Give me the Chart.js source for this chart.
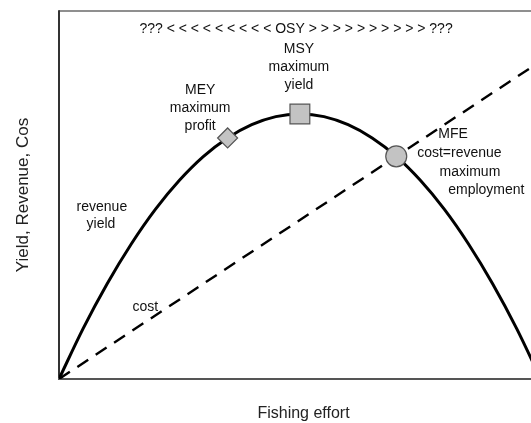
<!DOCTYPE html>
<html>
<head>
<meta charset="utf-8">
<script src="https://cdn.jsdelivr.net/npm/chart.js@4.4.1/dist/chart.umd.min.js"></script>
<style>
  html, body { margin: 0; padding: 0; background: #fff; overflow: hidden; width: 531px; height: 423px; }
  canvas { display: block; }
</style>
</head>
<body>
<!-- le cadre de l'original est coupé à droite : le canvas déborde un peu -->
<canvas id="fishChart" width="548" height="423"></canvas>
<script>
// ─── DONNÉES ─────────────────────────────────────────────────────────────
const effort = [0, 5, 10, 15, 20, 25, 30, 35, 40, 45, 50, 55, 60, 65, 70, 75, 80, 85, 90, 95, 100];
// courbe revenu / rendement
const yieldValues = [0, 13.7, 25.9, 36.7, 46.1, 54, 60.5, 65.5, 69.1, 71.3, 72, 71.3, 69.1, 65.5, 60.5, 54, 46.1, 36.7, 25.9, 13.7, 0];
// droite des coûts
const costEffort = [0, 101.5];
const costValues = [0, 87.7];
// points remarquables : MEY, MSY, MFE
const markerEffort = [35, 50, 70];
const markerValues = [65.5, 72, 60.5];
const markerStyles = ['rectRot', 'rect', 'circle'];

const xTitle = 'Fishing effort';
const yTitle = 'Yield, Revenue, Cos';

// textes posés dans le repère des données
const notes = [
    { text: '??? < < < < < < < < < OSY > > > > > > > > > > ???', x: 49.2, y: 95.1 },
    { text: 'MSY', x: 49.8, y: 89.7 },
    { text: 'maximum', x: 49.8, y: 84.8 },
    { text: 'yield', x: 49.8, y: 79.9 },
    { text: 'MEY', x: 29.3, y: 78.5 },
    { text: 'maximum', x: 29.3, y: 73.6 },
    { text: 'profit', x: 29.3, y: 68.8 },
    { text: 'MFE', x: 81.8, y: 66.6 },
    { text: 'cost=revenue', x: 83.1, y: 61.4 },
    { text: 'maximum', x: 85.3, y: 56.3 },
    { text: 'employment', x: 88.7, y: 51.4 },
    { text: 'revenue', x: 8.9, y: 46.7 },
    { text: 'yield', x: 8.7, y: 42.1 },
    { text: 'cost', x: 17.9, y: 19.6 }
];

const FONT = "'Liberation Sans', Arial, sans-serif";

// ─── PLUGINS ─────────────────────────────────────────────────────────────
const framePlugin = {
    id: 'frame',
    beforeDatasetsDraw(chart) {
        const { ctx, chartArea: a } = chart;
        ctx.save();
        // haut
        ctx.strokeStyle = '#6a6a6a';
        ctx.lineWidth = 1.5;
        ctx.beginPath();
        ctx.moveTo(a.left, a.top);
        ctx.lineTo(a.right, a.top);
        ctx.stroke();
        // gauche
        ctx.strokeStyle = '#333';
        ctx.lineWidth = 2;
        ctx.beginPath();
        ctx.moveTo(a.left, a.top - 0.75);
        ctx.lineTo(a.left, a.bottom);
        ctx.stroke();
        // bas
        ctx.strokeStyle = '#555';
        ctx.lineWidth = 2;
        ctx.beginPath();
        ctx.moveTo(a.left - 1, a.bottom);
        ctx.lineTo(a.right, a.bottom);
        ctx.stroke();
        ctx.restore();
    }
};

const notesPlugin = {
    id: 'notes',
    afterDatasetsDraw(chart) {
        const { ctx, scales: { x, y } } = chart;
        ctx.save();
        ctx.font = '14px ' + FONT;
        ctx.fillStyle = '#111';
        ctx.textAlign = 'center';
        ctx.textBaseline = 'middle';
        notes.forEach(n => {
            ctx.fillText(n.text, x.getPixelForValue(n.x), y.getPixelForValue(n.y));
        });
        ctx.restore();
    }
};

// ─── GRAPHIQUE ───────────────────────────────────────────────────────────
const ctx = document.getElementById('fishChart').getContext('2d');

new Chart(ctx, {
    type: 'line',
    data: {
        datasets: [
            {
                label: 'revenue yield',
                data: effort.map((e, i) => ({ x: e, y: yieldValues[i] })),
                borderColor: '#000',
                borderWidth: 3,
                pointRadius: 0,
                cubicInterpolationMode: 'monotone',
                fill: false,
                order: 2
            },
            {
                label: 'cost',
                data: costEffort.map((e, i) => ({ x: e, y: costValues[i] })),
                borderColor: '#000',
                borderWidth: 2.4,
                borderDash: [13, 9],
                pointRadius: 0,
                fill: false,
                order: 1
            },
            {
                label: 'points',
                data: markerEffort.map((e, i) => ({ x: e, y: markerValues[i] })),
                showLine: false,
                pointStyle: markerStyles,
                pointRadius: [10, 14, 10.5],
                backgroundColor: '#c3c3c3',
                borderColor: '#555',
                pointBorderWidth: 1.2,
                order: 0
            }
        ]
    },
    options: {
        responsive: false,
        animation: false,
        layout: { autoPadding: false, padding: { top: 11, right: 0, left: 0, bottom: 0 } },
        scales: {
            x: {
                type: 'linear',
                min: 0, max: 101.5,
                ticks: { display: false },
                grid: { display: false },
                border: { display: false },
                title: {
                    display: true,
                    text: xTitle,
                    color: '#222',
                    font: { size: 16, family: FONT },
                    padding: { top: 0, bottom: 0 }
                },
                afterFit: s => { s.height = 44; }
            },
            y: {
                min: 0, max: 100,
                ticks: { display: false },
                grid: { display: false },
                border: { display: false },
                title: {
                    display: true,
                    text: yTitle,
                    color: '#222',
                    font: { size: 17, family: FONT },
                    padding: { top: 13, bottom: 0 }
                },
                afterFit: s => { s.width = 59; }
            }
        },
        plugins: {
            legend: { display: false },
            tooltip: { enabled: false }
        }
    },
    plugins: [framePlugin, notesPlugin]
});
</script>
</body>
</html>
